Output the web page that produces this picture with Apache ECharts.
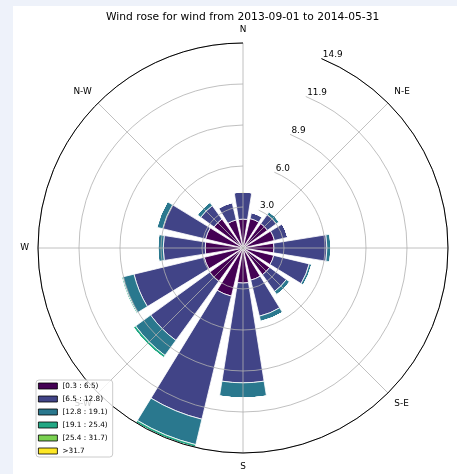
<!DOCTYPE html>
<html>
<head>
<meta charset="utf-8">
<script src="https://cdn.jsdelivr.net/npm/echarts@6.0.0/dist/echarts.min.js"></script>
<style>
  html, body { margin: 0; padding: 0; background: #eef2fa; }
  #main { width: 457px; height: 474px; }
</style>
</head>
<body>
<div id="main"></div>
<script>
// wind directions, clockwise from north
const directions = ['N', 'NNE', 'NE', 'ENE', 'E', 'ESE', 'SE', 'SSE', 'S', 'SSW', 'SW', 'WSW', 'W', 'WNW', 'NW', 'NNW'];
const binLabels = ['[0.3 : 6.5)', '[6.5 : 12.8)', '[12.8 : 19.1)', '[19.1 : 25.4)', '[25.4 : 31.7)', '>31.7'];
const binColors = ['#440154', '#414487', '#2a788e', '#22a884', '#7ad151', '#fde725'];

// frequency (%) per speed bin, one value per direction
const bin1 = [2.1, 2.2, 2.2, 2.35, 2.25, 2.3, 2.4, 2.4, 2.55, 3.6, 3.0, 2.9, 2.75, 2.8, 2.6, 2.1];
const bin2 = [1.97, 0.45, 0.8, 1.0, 3.85, 2.65, 1.5, 2.7, 7.25, 9.2, 5.3, 5.25, 3.05, 3.2, 1.2, 1.3];
const bin3 = [0, 0, 0.25, 0, 0.3, 0.2, 0.3, 0.4, 1.1, 1.9, 1.35, 0.85, 0.4, 0.45, 0.3, 0];
const bin4 = [0, 0, 0, 0, 0, 0, 0, 0, 0, 0.2, 0.2, 0.1, 0, 0, 0, 0];
const bin5 = [0, 0, 0, 0, 0, 0, 0, 0, 0, 0, 0, 0, 0, 0, 0, 0];
const bin6 = [0, 0, 0, 0, 0, 0, 0, 0, 0, 0, 0, 0, 0, 0, 0, 0];
const bins = [bin1, bin2, bin3, bin4, bin5, bin6];

const radiusMax = 14.9;
const radiusTickCount = 5;
const compassLabels = { N: 'N', NE: 'N-E', E: 'E', SE: 'S-E', S: 'S', SW: 'S-W', W: 'W', NW: 'N-W' };

const font = 'DejaVu Sans';
const center = [243, 248];
const radius = 205;

// grid axis starts at NNE so the radius labels sit there
const gridCats = directions.slice(1).concat(directions[0]);
const isMain = (i, v) => compassLabels[v] !== undefined;

const chart = echarts.init(document.getElementById('main'));

const option = {
  backgroundColor: '#eef2fa',
  animation: false,
  graphic: [{
    type: 'rect', left: 13, top: 6, z: -10, silent: true,
    shape: { width: 444, height: 468 },
    style: { fill: '#ffffff' }
  }],
  title: {
    text: 'Wind rose for wind from 2013-09-01 to 2014-05-31',
    left: 106, top: 12, padding: 0,
    textStyle: { fontFamily: font, fontSize: 10.7, fontWeight: 'normal', color: '#000' }
  },
  legend: {
    orient: 'vertical', left: 36, top: 380, z: 10,
    padding: [2, 5, 2, 2],
    itemWidth: 19, itemHeight: 6, itemGap: 5, icon: 'rect',
    backgroundColor: 'rgba(255,255,255,0.8)',
    borderColor: '#cccccc', borderWidth: 1, borderRadius: 3,
    itemStyle: { borderColor: '#000', borderWidth: 0.8 },
    textStyle: { fontFamily: font, fontSize: 7.3, color: '#000', lineHeight: 8 },
    data: binLabels
  },
  polar: [
    { center: center, radius: radius },
    { center: center, radius: radius }
  ],
  angleAxis: [
    {
      polarIndex: 0, type: 'category', data: directions,
      startAngle: 90 + 11.25, clockwise: true, boundaryGap: true,
      axisLine: { show: false }, axisTick: { show: false },
      axisLabel: { show: false }, splitLine: { show: false }
    },
    {
      polarIndex: 1, type: 'category', data: gridCats,
      startAngle: 67.5, clockwise: true, boundaryGap: false, z: 4,
      axisLine: { lineStyle: { color: '#000', width: 1 } },
      axisTick: { show: false, interval: isMain },
      axisLabel: {
        interval: 0, margin: 9,
        fontFamily: font, fontSize: 8.9, color: '#000',
        formatter: v => compassLabels[v] || ''
      },
      splitLine: { show: true, lineStyle: { color: '#b0b0b0', width: 0.8 } }
    }
  ],
  radiusAxis: [
    {
      polarIndex: 0, min: 0, max: radiusMax,
      axisLine: { show: false }, axisTick: { show: false },
      axisLabel: { show: false }, splitLine: { show: false }
    },
    {
      polarIndex: 1, min: 0, max: radiusMax, interval: radiusMax / radiusTickCount, z: 3,
      axisLine: { show: false }, axisTick: { show: false },
      axisLabel: {
        margin: -1.5, align: 'left', verticalAlign: 'bottom',
        fontFamily: font, fontSize: 8.9, color: '#000',
        formatter: v => (v === 0 ? '' : v.toFixed(1))
      },
      splitLine: { show: true, lineStyle: { color: '#b0b0b0', width: 0.8 } }
    }
  ],
  series: bins.map((vals, i) => ({
    type: 'bar',
    name: binLabels[i],
    coordinateSystem: 'polar',
    polarIndex: 0,
    stack: 'wind',
    barCategoryGap: '20%',
    data: vals,
    itemStyle: { color: binColors[i], borderColor: '#fff', borderWidth: 0.8 }
  }))
};

chart.setOption(option);
</script>
</body>
</html>
